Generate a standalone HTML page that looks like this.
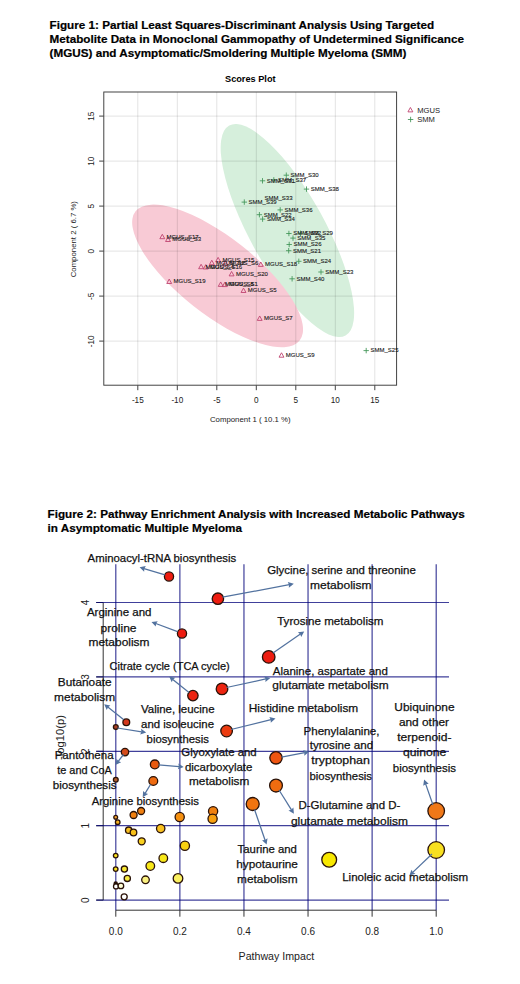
<!DOCTYPE html>
<html><head><meta charset="utf-8"><title>Figures</title>
<style>
html,body{margin:0;padding:0;background:#fff;}
body{width:520px;height:984px;overflow:hidden;}
svg{display:block;font-family:"Liberation Sans", sans-serif;}
</style></head>
<body>
<svg width="520" height="984" viewBox="0 0 520 984">
<text x="49.6" y="28.7" font-size="11.7" font-weight="bold" fill="#000" stroke="#000" stroke-width="0.2">Figure 1: Partial Least Squares-Discriminant Analysis Using Targeted</text>
<text x="49.6" y="43.1" font-size="11.7" font-weight="bold" fill="#000" stroke="#000" stroke-width="0.2">Metabolite Data in Monoclonal Gammopathy of Undetermined Significance</text>
<text x="49.6" y="57.0" font-size="11.7" font-weight="bold" fill="#000" stroke="#000" stroke-width="0.2">(MGUS) and Asymptomatic/Smoldering Multiple Myeloma (SMM)</text>
<text x="47.6" y="517.6" font-size="11.7" font-weight="bold" fill="#000" stroke="#000" stroke-width="0.2">Figure 2: Pathway Enrichment Analysis with Increased Metabolic Pathways</text>
<text x="47.6" y="531.8" font-size="11.7" font-weight="bold" fill="#000" stroke="#000" stroke-width="0.2">in Asymptomatic Multiple Myeloma</text>
<text x="250.3" y="81.9" font-size="9.2" font-weight="bold" text-anchor="middle" fill="#000">Scores Plot</text>
<ellipse cx="287.4" cy="230.5" rx="120.0" ry="37.4" transform="rotate(61.0 287.4 230.5)" fill="#d6efdc"/>
<ellipse cx="217.6" cy="275.9" rx="104.4" ry="38.6" transform="rotate(38.2 217.6 275.9)" fill="#f8cad5"/>
<path d="M137.80 92.0V385.2 M177.30 92.0V385.2 M216.80 92.0V385.2 M256.30 92.0V385.2 M295.80 92.0V385.2 M335.30 92.0V385.2 M374.80 92.0V385.2 M103.8 116.10H396.6 M103.8 161.10H396.6 M103.8 206.10H396.6 M103.8 251.10H396.6 M103.8 296.10H396.6 M103.8 341.10H396.6" stroke="#000" stroke-opacity="0.13" stroke-width="0.9" fill="none"/>
<rect x="103.8" y="92.0" width="292.80" height="293.20" fill="none" stroke="#3a3a3a" stroke-width="0.95"/>
<path d="M137.80 385.2v5.0 M177.30 385.2v5.0 M216.80 385.2v5.0 M256.30 385.2v5.0 M295.80 385.2v5.0 M335.30 385.2v5.0 M374.80 385.2v5.0 M103.8 116.10h-4.6 M103.8 161.10h-4.6 M103.8 206.10h-4.6 M103.8 251.10h-4.6 M103.8 296.10h-4.6 M103.8 341.10h-4.6" stroke="#444" stroke-width="1" fill="none"/>
<text x="137.80" y="403.2" font-size="8.2" text-anchor="middle" fill="#222">-15</text>
<text x="177.30" y="403.2" font-size="8.2" text-anchor="middle" fill="#222">-10</text>
<text x="216.80" y="403.2" font-size="8.2" text-anchor="middle" fill="#222">-5</text>
<text x="256.30" y="403.2" font-size="8.2" text-anchor="middle" fill="#222">0</text>
<text x="295.80" y="403.2" font-size="8.2" text-anchor="middle" fill="#222">5</text>
<text x="335.30" y="403.2" font-size="8.2" text-anchor="middle" fill="#222">10</text>
<text x="374.80" y="403.2" font-size="8.2" text-anchor="middle" fill="#222">15</text>
<text transform="translate(94.2,116.30) rotate(-90)" font-size="8.2" text-anchor="middle" fill="#222">15</text>
<text transform="translate(94.2,161.30) rotate(-90)" font-size="8.2" text-anchor="middle" fill="#222">10</text>
<text transform="translate(94.2,206.30) rotate(-90)" font-size="8.2" text-anchor="middle" fill="#222">5</text>
<text transform="translate(94.2,251.30) rotate(-90)" font-size="8.2" text-anchor="middle" fill="#222">0</text>
<text transform="translate(94.2,296.30) rotate(-90)" font-size="8.2" text-anchor="middle" fill="#222">-5</text>
<text transform="translate(94.2,341.30) rotate(-90)" font-size="8.2" text-anchor="middle" fill="#222">-10</text>
<text x="250.3" y="421.7" font-size="7.8" text-anchor="middle" fill="#222">Component 1 ( 10.1 %)</text>
<text transform="translate(75.5,239.2) rotate(-90)" font-size="7.8" text-anchor="middle" fill="#222">Component 2 ( 6.7 %)</text>
<path d="M162.30 234.28L164.75 238.69H159.85Z" fill="none" stroke="#bf4470" stroke-width="0.9"/>
<path d="M168.00 237.08L170.45 241.49H165.55Z" fill="none" stroke="#bf4470" stroke-width="0.9"/>
<path d="M218.10 257.38L220.55 261.79H215.65Z" fill="none" stroke="#bf4470" stroke-width="0.9"/>
<path d="M211.80 260.28L214.25 264.69H209.35Z" fill="none" stroke="#bf4470" stroke-width="0.9"/>
<path d="M225.30 260.78L227.75 265.19H222.85Z" fill="none" stroke="#bf4470" stroke-width="0.9"/>
<path d="M201.10 264.28L203.55 268.69H198.65Z" fill="none" stroke="#bf4470" stroke-width="0.9"/>
<path d="M205.80 264.58L208.25 268.99H203.35Z" fill="none" stroke="#bf4470" stroke-width="0.9"/>
<path d="M231.60 271.48L234.05 275.89H229.15Z" fill="none" stroke="#bf4470" stroke-width="0.9"/>
<path d="M220.70 281.98L223.15 286.39H218.25Z" fill="none" stroke="#bf4470" stroke-width="0.9"/>
<path d="M224.90 282.18L227.35 286.59H222.45Z" fill="none" stroke="#bf4470" stroke-width="0.9"/>
<path d="M243.50 288.08L245.95 292.49H241.05Z" fill="none" stroke="#bf4470" stroke-width="0.9"/>
<path d="M260.80 261.98L263.25 266.39H258.35Z" fill="none" stroke="#bf4470" stroke-width="0.9"/>
<path d="M169.20 279.08L171.65 283.49H166.75Z" fill="none" stroke="#bf4470" stroke-width="0.9"/>
<path d="M259.70 315.98L262.15 320.39H257.25Z" fill="none" stroke="#bf4470" stroke-width="0.9"/>
<path d="M281.50 352.78L283.95 357.19H279.05Z" fill="none" stroke="#bf4470" stroke-width="0.9"/>
<path d="M283.60 175.20h5.40M286.30 172.50v5.40" stroke="#3f9455" stroke-width="0.85"/>
<path d="M259.80 180.80h5.40M262.50 178.10v5.40" stroke="#3f9455" stroke-width="0.85"/>
<path d="M271.10 179.90h5.40M273.80 177.20v5.40" stroke="#3f9455" stroke-width="0.85"/>
<path d="M303.80 189.10h5.40M306.50 186.40v5.40" stroke="#3f9455" stroke-width="0.85"/>
<path d="M241.60 202.10h5.40M244.30 199.40v5.40" stroke="#3f9455" stroke-width="0.85"/>
<path d="M277.50 209.90h5.40M280.20 207.20v5.40" stroke="#3f9455" stroke-width="0.85"/>
<path d="M256.70 214.70h5.40M259.40 212.00v5.40" stroke="#3f9455" stroke-width="0.85"/>
<path d="M259.90 219.10h5.40M262.60 216.40v5.40" stroke="#3f9455" stroke-width="0.85"/>
<path d="M286.20 233.50h5.40M288.90 230.80v5.40" stroke="#3f9455" stroke-width="0.85"/>
<path d="M297.80 233.30h5.40M300.50 230.60v5.40" stroke="#3f9455" stroke-width="0.85"/>
<path d="M290.30 238.10h5.40M293.00 235.40v5.40" stroke="#3f9455" stroke-width="0.85"/>
<path d="M286.50 244.50h5.40M289.20 241.80v5.40" stroke="#3f9455" stroke-width="0.85"/>
<path d="M286.00 250.70h5.40M288.70 248.00v5.40" stroke="#3f9455" stroke-width="0.85"/>
<path d="M296.10 261.30h5.40M298.80 258.60v5.40" stroke="#3f9455" stroke-width="0.85"/>
<path d="M318.30 272.00h5.40M321.00 269.30v5.40" stroke="#3f9455" stroke-width="0.85"/>
<path d="M289.40 278.80h5.40M292.10 276.10v5.40" stroke="#3f9455" stroke-width="0.85"/>
<path d="M363.50 350.60h5.40M366.20 347.90v5.40" stroke="#3f9455" stroke-width="0.85"/>
<text x="166.60" y="238.50" font-size="6.0" fill="#1a1a1a" stroke="#1a1a1a" stroke-width="0.12">MGUS_S17</text>
<text x="172.30" y="241.30" font-size="6.0" fill="#1a1a1a" stroke="#1a1a1a" stroke-width="0.12">MGUS_S3</text>
<text x="222.40" y="261.60" font-size="6.0" fill="#1a1a1a" stroke="#1a1a1a" stroke-width="0.12">MGUS_S15</text>
<text x="216.10" y="264.50" font-size="6.0" fill="#1a1a1a" stroke="#1a1a1a" stroke-width="0.12">MGUS_S2</text>
<text x="229.60" y="265.00" font-size="6.0" fill="#1a1a1a" stroke="#1a1a1a" stroke-width="0.12">MGUS_S6</text>
<text x="205.40" y="268.50" font-size="6.0" fill="#1a1a1a" stroke="#1a1a1a" stroke-width="0.12">MGUS_S4</text>
<text x="210.10" y="268.80" font-size="6.0" fill="#1a1a1a" stroke="#1a1a1a" stroke-width="0.12">MGUS_S16</text>
<text x="235.90" y="275.70" font-size="6.0" fill="#1a1a1a" stroke="#1a1a1a" stroke-width="0.12">MGUS_S20</text>
<text x="225.00" y="286.20" font-size="6.0" fill="#1a1a1a" stroke="#1a1a1a" stroke-width="0.12">MGUS_S8</text>
<text x="229.20" y="286.40" font-size="6.0" fill="#1a1a1a" stroke="#1a1a1a" stroke-width="0.12">MGUS_S1</text>
<text x="247.80" y="292.30" font-size="6.0" fill="#1a1a1a" stroke="#1a1a1a" stroke-width="0.12">MGUS_S5</text>
<text x="265.10" y="266.20" font-size="6.0" fill="#1a1a1a" stroke="#1a1a1a" stroke-width="0.12">MGUS_S18</text>
<text x="173.50" y="283.30" font-size="6.0" fill="#1a1a1a" stroke="#1a1a1a" stroke-width="0.12">MGUS_S19</text>
<text x="264.00" y="320.20" font-size="6.0" fill="#1a1a1a" stroke="#1a1a1a" stroke-width="0.12">MGUS_S7</text>
<text x="285.80" y="357.00" font-size="6.0" fill="#1a1a1a" stroke="#1a1a1a" stroke-width="0.12">MGUS_S9</text>
<text x="290.60" y="177.00" font-size="6.0" fill="#1a1a1a" stroke="#1a1a1a" stroke-width="0.12">SMM_S30</text>
<text x="266.80" y="182.60" font-size="6.0" fill="#1a1a1a" stroke="#1a1a1a" stroke-width="0.12">SMM_S31</text>
<text x="278.10" y="181.70" font-size="6.0" fill="#1a1a1a" stroke="#1a1a1a" stroke-width="0.12">SMM_S37</text>
<text x="310.80" y="190.90" font-size="6.0" fill="#1a1a1a" stroke="#1a1a1a" stroke-width="0.12">SMM_S38</text>
<text x="264.50" y="200.40" font-size="6.0" fill="#1a1a1a" stroke="#1a1a1a" stroke-width="0.12">SMM_S33</text>
<text x="248.60" y="203.90" font-size="6.0" fill="#1a1a1a" stroke="#1a1a1a" stroke-width="0.12">SMM_S39</text>
<text x="284.50" y="211.70" font-size="6.0" fill="#1a1a1a" stroke="#1a1a1a" stroke-width="0.12">SMM_S36</text>
<text x="263.70" y="216.50" font-size="6.0" fill="#1a1a1a" stroke="#1a1a1a" stroke-width="0.12">SMM_S22</text>
<text x="266.90" y="220.90" font-size="6.0" fill="#1a1a1a" stroke="#1a1a1a" stroke-width="0.12">SMM_S34</text>
<text x="293.20" y="235.30" font-size="6.0" fill="#1a1a1a" stroke="#1a1a1a" stroke-width="0.12">SMM_S32</text>
<text x="304.80" y="235.10" font-size="6.0" fill="#1a1a1a" stroke="#1a1a1a" stroke-width="0.12">SMM_S29</text>
<text x="297.30" y="239.90" font-size="6.0" fill="#1a1a1a" stroke="#1a1a1a" stroke-width="0.12">SMM_S35</text>
<text x="293.50" y="246.30" font-size="6.0" fill="#1a1a1a" stroke="#1a1a1a" stroke-width="0.12">SMM_S26</text>
<text x="293.00" y="252.50" font-size="6.0" fill="#1a1a1a" stroke="#1a1a1a" stroke-width="0.12">SMM_S21</text>
<text x="303.10" y="263.10" font-size="6.0" fill="#1a1a1a" stroke="#1a1a1a" stroke-width="0.12">SMM_S24</text>
<text x="325.30" y="273.80" font-size="6.0" fill="#1a1a1a" stroke="#1a1a1a" stroke-width="0.12">SMM_S23</text>
<text x="296.40" y="280.60" font-size="6.0" fill="#1a1a1a" stroke="#1a1a1a" stroke-width="0.12">SMM_S40</text>
<text x="370.50" y="352.40" font-size="6.0" fill="#1a1a1a" stroke="#1a1a1a" stroke-width="0.12">SMM_S25</text>
<path d="M410.40 107.48L412.85 111.89H407.95Z" fill="none" stroke="#bf4470" stroke-width="0.9"/>
<path d="M407.90 119.50h5.40M410.60 116.80v5.40" stroke="#3f9455" stroke-width="0.85"/>
<text x="417.2" y="112.5" font-size="7.6" fill="#222">MGUS</text>
<text x="417.2" y="122.0" font-size="7.6" fill="#222">SMM</text>
<path d="M103.2 900.10V602.50 M115.80 910.2H436.20 M103.2 900.10h-7 M103.2 825.70h-7 M103.2 751.30h-7 M103.2 676.90h-7 M103.2 602.50h-7 M115.80 910.2v6.5 M179.88 910.2v6.5 M243.96 910.2v6.5 M308.04 910.2v6.5 M372.12 910.2v6.5 M436.20 910.2v6.5" stroke="#333" stroke-width="1" fill="none"/>
<path d="M115.80 564.2V910.2 M179.88 564.2V910.2 M243.96 564.2V910.2 M308.04 564.2V910.2 M372.12 564.2V910.2 M436.20 564.2V910.2" stroke="#00007a" stroke-opacity="0.75" stroke-width="1.2" fill="none"/>
<path d="M96.2 900.10H449.0 M96.2 825.70H449.0 M96.2 751.30H449.0 M96.2 676.90H449.0 M96.2 602.50H449.0" stroke="#00007a" stroke-opacity="0.75" stroke-width="1.2" fill="none"/>
<text x="115.80" y="935.0" font-size="10" text-anchor="middle" fill="#222">0.0</text>
<text x="179.88" y="935.0" font-size="10" text-anchor="middle" fill="#222">0.2</text>
<text x="243.96" y="935.0" font-size="10" text-anchor="middle" fill="#222">0.4</text>
<text x="308.04" y="935.0" font-size="10" text-anchor="middle" fill="#222">0.6</text>
<text x="372.12" y="935.0" font-size="10" text-anchor="middle" fill="#222">0.8</text>
<text x="436.20" y="935.0" font-size="10" text-anchor="middle" fill="#222">1.0</text>
<text transform="translate(89.2,900.10) rotate(-90)" font-size="10" text-anchor="middle" fill="#222">0</text>
<text transform="translate(89.2,825.70) rotate(-90)" font-size="10" text-anchor="middle" fill="#222">1</text>
<text transform="translate(89.2,751.30) rotate(-90)" font-size="10" text-anchor="middle" fill="#222">2</text>
<text transform="translate(89.2,676.90) rotate(-90)" font-size="10" text-anchor="middle" fill="#222">3</text>
<text transform="translate(89.2,602.50) rotate(-90)" font-size="10" text-anchor="middle" fill="#222">4</text>
<text x="276.4" y="960.3" font-size="10.64" text-anchor="middle" fill="#222">Pathway Impact</text>
<text transform="translate(64.3,737.5) rotate(-90)" font-size="11.2" text-anchor="middle" fill="#222">-log10(p)</text>
<circle cx="169.0" cy="576.5" r="4.6" fill="#ee1c10" stroke="#2a1208" stroke-width="1.3"/>
<circle cx="217.9" cy="598.7" r="5.7" fill="#ee1c10" stroke="#2a1208" stroke-width="1.3"/>
<circle cx="182.0" cy="633.5" r="4.6" fill="#ee1c10" stroke="#2a1208" stroke-width="1.3"/>
<circle cx="268.7" cy="656.9" r="6.3" fill="#ee1c10" stroke="#2a1208" stroke-width="1.3"/>
<circle cx="192.9" cy="695.6" r="5.2" fill="#ec2410" stroke="#2a1208" stroke-width="1.3"/>
<circle cx="222.0" cy="688.9" r="5.8" fill="#ec2410" stroke="#2a1208" stroke-width="1.3"/>
<circle cx="126.3" cy="722.3" r="3.4" fill="#d4381c" stroke="#2a1208" stroke-width="1.3"/>
<circle cx="115.8" cy="727.1" r="2.4" fill="#a84028" stroke="#2a1208" stroke-width="1.3"/>
<circle cx="226.6" cy="731.0" r="5.8" fill="#ec3c10" stroke="#2a1208" stroke-width="1.3"/>
<circle cx="125.0" cy="752.1" r="3.7" fill="#d44c1c" stroke="#2a1208" stroke-width="1.3"/>
<circle cx="276.0" cy="757.8" r="6.2" fill="#ee5410" stroke="#2a1208" stroke-width="1.3"/>
<circle cx="154.8" cy="764.4" r="4.4" fill="#e85a10" stroke="#2a1208" stroke-width="1.3"/>
<circle cx="115.8" cy="779.8" r="2.4" fill="#b06030" stroke="#2a1208" stroke-width="1.3"/>
<circle cx="153.3" cy="781.0" r="4.4" fill="#ee6a10" stroke="#2a1208" stroke-width="1.3"/>
<circle cx="276.0" cy="785.6" r="6.4" fill="#f06c10" stroke="#2a1208" stroke-width="1.3"/>
<circle cx="252.7" cy="804.0" r="6.5" fill="#f07410" stroke="#2a1208" stroke-width="1.3"/>
<circle cx="436.2" cy="811.0" r="8.3" fill="#f07818" stroke="#2a1208" stroke-width="1.3"/>
<circle cx="115.7" cy="817.3" r="1.9" fill="#f0a030" stroke="#2a1208" stroke-width="1.3"/>
<circle cx="117.7" cy="822.2" r="2.3" fill="#f4b020" stroke="#2a1208" stroke-width="1.3"/>
<circle cx="133.6" cy="815.0" r="3.5" fill="#f08010" stroke="#2a1208" stroke-width="1.3"/>
<circle cx="141.1" cy="811.0" r="3.5" fill="#f08010" stroke="#2a1208" stroke-width="1.3"/>
<circle cx="179.7" cy="817.0" r="4.6" fill="#f59010" stroke="#2a1208" stroke-width="1.3"/>
<circle cx="213.1" cy="811.2" r="4.6" fill="#f08010" stroke="#2a1208" stroke-width="1.3"/>
<circle cx="212.6" cy="818.8" r="4.6" fill="#f8a010" stroke="#2a1208" stroke-width="1.3"/>
<circle cx="128.7" cy="830.2" r="3.2" fill="#f8c020" stroke="#2a1208" stroke-width="1.3"/>
<circle cx="133.5" cy="832.5" r="3.3" fill="#f8c018" stroke="#2a1208" stroke-width="1.3"/>
<circle cx="160.7" cy="828.6" r="4.2" fill="#f8c020" stroke="#2a1208" stroke-width="1.3"/>
<circle cx="141.7" cy="841.3" r="3.5" fill="#f8d020" stroke="#2a1208" stroke-width="1.3"/>
<circle cx="184.9" cy="845.8" r="4.6" fill="#f8d010" stroke="#2a1208" stroke-width="1.3"/>
<circle cx="115.7" cy="855.6" r="2.3" fill="#f8e020" stroke="#2a1208" stroke-width="1.3"/>
<circle cx="163.3" cy="858.2" r="4.3" fill="#f8e818" stroke="#2a1208" stroke-width="1.3"/>
<circle cx="150.3" cy="866.0" r="4.3" fill="#f8e818" stroke="#2a1208" stroke-width="1.3"/>
<circle cx="115.7" cy="869.1" r="2.3" fill="#f8e020" stroke="#2a1208" stroke-width="1.3"/>
<circle cx="124.4" cy="869.1" r="3.1" fill="#f8e830" stroke="#2a1208" stroke-width="1.3"/>
<circle cx="127.3" cy="878.4" r="3.1" fill="#f8ec40" stroke="#2a1208" stroke-width="1.3"/>
<circle cx="145.5" cy="879.8" r="3.8" fill="#faf080" stroke="#2a1208" stroke-width="1.3"/>
<circle cx="178.0" cy="878.4" r="4.8" fill="#faf060" stroke="#2a1208" stroke-width="1.3"/>
<circle cx="329.2" cy="859.8" r="7.4" fill="#f8e800" stroke="#2a1208" stroke-width="1.3"/>
<circle cx="436.2" cy="850.0" r="8.3" fill="#f8e020" stroke="#2a1208" stroke-width="1.3"/>
<circle cx="115.7" cy="883.6" r="1.6" fill="#000000" stroke="#2a1208" stroke-width="1.3"/>
<circle cx="116.0" cy="886.4" r="2.5" fill="#ffffff" stroke="#2a1208" stroke-width="1.3"/>
<circle cx="120.9" cy="885.9" r="2.8" fill="#ffffd8" stroke="#2a1208" stroke-width="1.3"/>
<circle cx="124.2" cy="896.8" r="3.0" fill="#ffffff" stroke="#2a1208" stroke-width="1.3"/>
<path d="M165.00 574.80L144.01 568.60" stroke="#52729f" stroke-width="1.25" fill="none"/><path d="M139.60 567.30L145.79 566.10L144.30 568.69L144.15 571.67Z" fill="#52729f"/>
<path d="M222.50 597.20L289.28 584.65" stroke="#52729f" stroke-width="1.25" fill="none"/><path d="M293.80 583.80L288.83 587.68L288.98 584.71L287.76 581.98Z" fill="#52729f"/>
<path d="M177.50 631.60L155.81 623.51" stroke="#52729f" stroke-width="1.25" fill="none"/><path d="M151.50 621.90L157.76 621.14L156.09 623.61L155.73 626.57Z" fill="#52729f"/>
<path d="M273.00 653.00L300.41 634.11" stroke="#52729f" stroke-width="1.25" fill="none"/><path d="M304.20 631.50L301.23 637.07L300.17 634.28L297.94 632.29Z" fill="#52729f"/>
<path d="M189.00 692.50L172.78 679.39" stroke="#52729f" stroke-width="1.25" fill="none"/><path d="M169.20 676.50L175.38 677.76L173.01 679.58L171.73 682.28Z" fill="#52729f"/>
<path d="M226.50 687.50L265.80 678.98" stroke="#52729f" stroke-width="1.25" fill="none"/><path d="M270.30 678.00L265.44 682.02L265.51 679.04L264.21 676.35Z" fill="#52729f"/>
<path d="M123.50 719.50L107.80 707.06" stroke="#52729f" stroke-width="1.25" fill="none"/><path d="M104.20 704.20L110.39 705.41L108.04 707.24L106.79 709.95Z" fill="#52729f"/>
<path d="M117.50 728.00L141.66 731.79" stroke="#52729f" stroke-width="1.25" fill="none"/><path d="M146.20 732.50L140.22 734.50L141.36 731.74L141.12 728.77Z" fill="#52729f"/>
<path d="M231.00 729.50L271.03 719.60" stroke="#52729f" stroke-width="1.25" fill="none"/><path d="M275.50 718.50L270.76 722.66L270.74 719.68L269.37 717.03Z" fill="#52729f"/>
<path d="M123.50 754.50L118.21 761.36" stroke="#52729f" stroke-width="1.25" fill="none"/><path d="M115.40 765.00L116.52 758.79L118.39 761.12L121.12 762.34Z" fill="#52729f"/>
<path d="M158.50 764.80L179.12 766.52" stroke="#52729f" stroke-width="1.25" fill="none"/><path d="M183.70 766.90L177.88 769.32L178.82 766.49L178.36 763.54Z" fill="#52729f"/>
<path d="M150.50 784.50L145.09 793.37" stroke="#52729f" stroke-width="1.25" fill="none"/><path d="M142.70 797.30L143.14 791.01L145.25 793.12L148.09 794.03Z" fill="#52729f"/>
<path d="M281.50 757.20L304.69 752.60" stroke="#52729f" stroke-width="1.25" fill="none"/><path d="M309.20 751.70L304.27 755.64L304.39 752.65L303.14 749.95Z" fill="#52729f"/>
<path d="M279.00 790.00L291.46 809.90" stroke="#52729f" stroke-width="1.25" fill="none"/><path d="M293.90 813.80L288.47 810.59L291.30 809.65L293.39 807.51Z" fill="#52729f"/>
<path d="M254.50 809.50L265.10 840.25" stroke="#52729f" stroke-width="1.25" fill="none"/><path d="M266.60 844.60L262.03 840.25L265.00 839.97L267.52 838.36Z" fill="#52729f"/>
<path d="M433.00 805.00L425.62 783.84" stroke="#52729f" stroke-width="1.25" fill="none"/><path d="M424.10 779.50L428.68 783.83L425.71 784.13L423.21 785.74Z" fill="#52729f"/>
<path d="M432.00 854.00L412.73 872.42" stroke="#52729f" stroke-width="1.25" fill="none"/><path d="M409.40 875.60L411.44 869.63L412.94 872.21L415.45 873.83Z" fill="#52729f"/>
<text x="87.60" y="561.50" font-size="11.5" textLength="148.54" lengthAdjust="spacingAndGlyphs" fill="#111" stroke="#111" stroke-width="0.25">Aminoacyl-tRNA biosynthesis</text>
<text x="267.13" y="574.40" font-size="11.5" textLength="148.68" lengthAdjust="spacingAndGlyphs" fill="#111" stroke="#111" stroke-width="0.25">Glycine, serine and threonine</text>
<text x="310.08" y="588.90" font-size="11.5" textLength="61.48" lengthAdjust="spacingAndGlyphs" fill="#111" stroke="#111" stroke-width="0.25">metabolism</text>
<text x="86.90" y="616.00" font-size="11.5" textLength="64.55" lengthAdjust="spacingAndGlyphs" fill="#111" stroke="#111" stroke-width="0.25">Arginine and</text>
<text x="100.48" y="631.60" font-size="11.5" textLength="36.05" lengthAdjust="spacingAndGlyphs" fill="#111" stroke="#111" stroke-width="0.25">proline</text>
<text x="88.48" y="646.40" font-size="11.5" textLength="61.07" lengthAdjust="spacingAndGlyphs" fill="#111" stroke="#111" stroke-width="0.25">metabolism</text>
<text x="277.17" y="624.80" font-size="11.5" textLength="106.26" lengthAdjust="spacingAndGlyphs" fill="#111" stroke="#111" stroke-width="0.25">Tyrosine metabolism</text>
<text x="109.55" y="669.90" font-size="11.5" textLength="120.23" lengthAdjust="spacingAndGlyphs" fill="#111" stroke="#111" stroke-width="0.25">Citrate cycle (TCA cycle)</text>
<text x="272.80" y="674.80" font-size="11.5" textLength="115.05" lengthAdjust="spacingAndGlyphs" fill="#111" stroke="#111" stroke-width="0.25">Alanine, aspartate and</text>
<text x="272.32" y="689.00" font-size="11.5" textLength="116.43" lengthAdjust="spacingAndGlyphs" fill="#111" stroke="#111" stroke-width="0.25">glutamate metabolism</text>
<text x="57.75" y="686.20" font-size="11.5" textLength="53.87" lengthAdjust="spacingAndGlyphs" fill="#111" stroke="#111" stroke-width="0.25">Butanoate</text>
<text x="54.08" y="701.00" font-size="11.5" textLength="61.07" lengthAdjust="spacingAndGlyphs" fill="#111" stroke="#111" stroke-width="0.25">metabolism</text>
<text x="141.00" y="712.50" font-size="11.5" textLength="73.61" lengthAdjust="spacingAndGlyphs" fill="#111" stroke="#111" stroke-width="0.25">Valine, leucine</text>
<text x="141.04" y="727.90" font-size="11.5" textLength="72.97" lengthAdjust="spacingAndGlyphs" fill="#111" stroke="#111" stroke-width="0.25">and isoleucine</text>
<text x="146.62" y="743.30" font-size="11.5" textLength="62.22" lengthAdjust="spacingAndGlyphs" fill="#111" stroke="#111" stroke-width="0.25">biosynthesis</text>
<text x="248.75" y="712.30" font-size="11.5" textLength="109.50" lengthAdjust="spacingAndGlyphs" fill="#111" stroke="#111" stroke-width="0.25">Histidine metabolism</text>
<text x="303.47" y="734.60" font-size="11.5" textLength="76.05" lengthAdjust="spacingAndGlyphs" fill="#111" stroke="#111" stroke-width="0.25">Phenylalanine,</text>
<text x="309.68" y="749.10" font-size="11.5" textLength="63.47" lengthAdjust="spacingAndGlyphs" fill="#111" stroke="#111" stroke-width="0.25">tyrosine and</text>
<text x="311.28" y="763.50" font-size="11.5" textLength="58.62" lengthAdjust="spacingAndGlyphs" fill="#111" stroke="#111" stroke-width="0.25">tryptophan</text>
<text x="309.52" y="779.60" font-size="11.5" textLength="62.52" lengthAdjust="spacingAndGlyphs" fill="#111" stroke="#111" stroke-width="0.25">biosynthesis</text>
<text x="394.37" y="710.60" font-size="11.5" textLength="60.16" lengthAdjust="spacingAndGlyphs" fill="#111" stroke="#111" stroke-width="0.25">Ubiquinone</text>
<text x="398.93" y="725.60" font-size="11.5" textLength="50.13" lengthAdjust="spacingAndGlyphs" fill="#111" stroke="#111" stroke-width="0.25">and other</text>
<text x="397.18" y="741.00" font-size="11.5" textLength="54.34" lengthAdjust="spacingAndGlyphs" fill="#111" stroke="#111" stroke-width="0.25">terpenoid-</text>
<text x="402.91" y="756.30" font-size="11.5" textLength="43.33" lengthAdjust="spacingAndGlyphs" fill="#111" stroke="#111" stroke-width="0.25">quinone</text>
<text x="392.81" y="771.60" font-size="11.5" textLength="63.13" lengthAdjust="spacingAndGlyphs" fill="#111" stroke="#111" stroke-width="0.25">biosynthesis</text>
<text x="181.33" y="755.80" font-size="11.5" textLength="75.31" lengthAdjust="spacingAndGlyphs" fill="#111" stroke="#111" stroke-width="0.25">Glyoxylate and</text>
<text x="184.94" y="770.60" font-size="11.5" textLength="67.47" lengthAdjust="spacingAndGlyphs" fill="#111" stroke="#111" stroke-width="0.25">dicarboxylate</text>
<text x="188.99" y="785.30" font-size="11.5" textLength="60.35" lengthAdjust="spacingAndGlyphs" fill="#111" stroke="#111" stroke-width="0.25">metabolism</text>
<text x="54.68" y="758.90" font-size="11.5" textLength="58.88" lengthAdjust="spacingAndGlyphs" fill="#111" stroke="#111" stroke-width="0.25">Pantothena</text>
<text x="57.19" y="774.10" font-size="11.5" textLength="54.58" lengthAdjust="spacingAndGlyphs" fill="#111" stroke="#111" stroke-width="0.25">te and CoA</text>
<text x="52.80" y="788.50" font-size="11.5" textLength="63.74" lengthAdjust="spacingAndGlyphs" fill="#111" stroke="#111" stroke-width="0.25">biosynthesis</text>
<text x="91.70" y="805.20" font-size="11.5" textLength="107.14" lengthAdjust="spacingAndGlyphs" fill="#111" stroke="#111" stroke-width="0.25">Arginine biosynthesis</text>
<text x="298.48" y="809.40" font-size="11.5" textLength="101.91" lengthAdjust="spacingAndGlyphs" fill="#111" stroke="#111" stroke-width="0.25">D-Glutamine and D-</text>
<text x="290.92" y="824.80" font-size="11.5" textLength="117.03" lengthAdjust="spacingAndGlyphs" fill="#111" stroke="#111" stroke-width="0.25">glutamate metabolism</text>
<text x="237.57" y="852.90" font-size="11.5" textLength="59.37" lengthAdjust="spacingAndGlyphs" fill="#111" stroke="#111" stroke-width="0.25">Taurine and</text>
<text x="236.19" y="867.70" font-size="11.5" textLength="61.74" lengthAdjust="spacingAndGlyphs" fill="#111" stroke="#111" stroke-width="0.25">hypotaurine</text>
<text x="237.09" y="883.20" font-size="11.5" textLength="60.56" lengthAdjust="spacingAndGlyphs" fill="#111" stroke="#111" stroke-width="0.25">metabolism</text>
<text x="342.18" y="880.60" font-size="11.5" textLength="125.95" lengthAdjust="spacingAndGlyphs" fill="#111" stroke="#111" stroke-width="0.25">Linoleic acid metabolism</text>
</svg>
</body></html>
